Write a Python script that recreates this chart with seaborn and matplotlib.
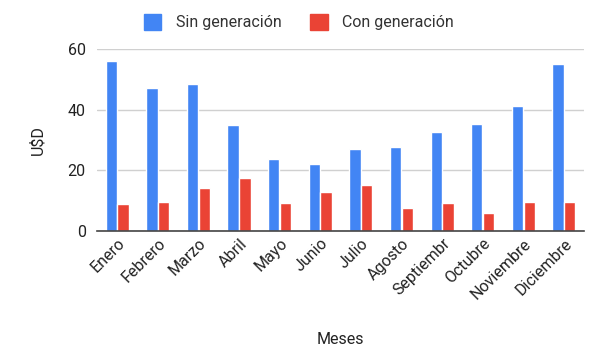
#!/usr/bin/env python3
"""Monthly cost (U$D) with and without generation, grouped bar chart."""

import pandas as pd
import matplotlib
matplotlib.use("Agg")
import matplotlib.pyplot as plt
import seaborn as sns

# --- Data ---
MESES = ["Enero", "Febrero", "Marzo", "Abril", "Mayo", "Junio", "Julio",
         "Agosto", "Septiembr", "Octubre", "Noviembre", "Diciembre"]
SIN_GENERACION = [56.2, 47.3, 48.3, 34.8, 23.8, 22.0, 27.1, 27.6, 32.6, 35.3, 41.2, 55.1]
CON_GENERACION = [8.8, 9.7, 14.3, 17.6, 9.3, 12.9, 15.3, 7.7, 9.3, 6.0, 9.7, 9.7]
SERIES = ["Sin generación", "Con generación"]
COLORS = ["#4285F4", "#EA4335"]


def main() -> None:
    df = pd.DataFrame({
        "mes": MESES * 2,
        "valor": SIN_GENERACION + CON_GENERACION,
        "serie": [SERIES[0]] * len(MESES) + [SERIES[1]] * len(MESES),
    })

    sns.set_style("white")
    plt.rcParams["font.family"] = ["Roboto", "DejaVu Sans"]

    fig = plt.figure(figsize=(5.98, 3.5), dpi=100)
    ax = fig.add_axes([0.162, 0.34, 0.815, 0.52])

    sns.barplot(data=df, x="mes", y="valor", hue="serie", order=MESES,
                hue_order=SERIES, palette=COLORS, width=0.58, gap=0.04,
                saturation=1, ax=ax, legend=False, zorder=3)

    ax.set_ylim(0, 60)
    ax.set_yticks([0, 20, 40, 60])
    ax.set_xlim(-0.5, len(MESES) - 0.5)
    ax.yaxis.grid(True, color="#d0d0d0", linewidth=1, zorder=0)
    ax.set_axisbelow(True)
    for side in ("top", "right", "left"):
        ax.spines[side].set_visible(False)
    ax.spines["bottom"].set_color("#444444")
    ax.spines["bottom"].set_linewidth(1.2)
    ax.spines["bottom"].set_zorder(4)

    ax.tick_params(axis="both", length=0, labelsize=11.5, colors="#222222")
    ax.tick_params(axis="y", pad=8)
    plt.setp(ax.get_xticklabels(), rotation=45, ha="right", rotation_mode="anchor")

    ax.set_xlabel("Meses", fontsize=11.5, color="#222222")
    ax.xaxis.set_label_coords(0.5, -0.555)
    ax.set_ylabel("U$D", fontsize=11.5, color="#222222", labelpad=16)

    handles = [plt.Rectangle((0, 0), 1, 1, color=c) for c in COLORS]
    fig.legend(handles, SERIES, loc="upper center", bbox_to_anchor=(0.5, 1.0),
               ncol=2, frameon=False, fontsize=11.5, handlelength=1.1,
               handleheight=1.1, handletextpad=0.9, columnspacing=1.8,
               labelcolor="#333333")

    fig.savefig("out.png", dpi=100)
    plt.close(fig)


if __name__ == "__main__":
    main()
